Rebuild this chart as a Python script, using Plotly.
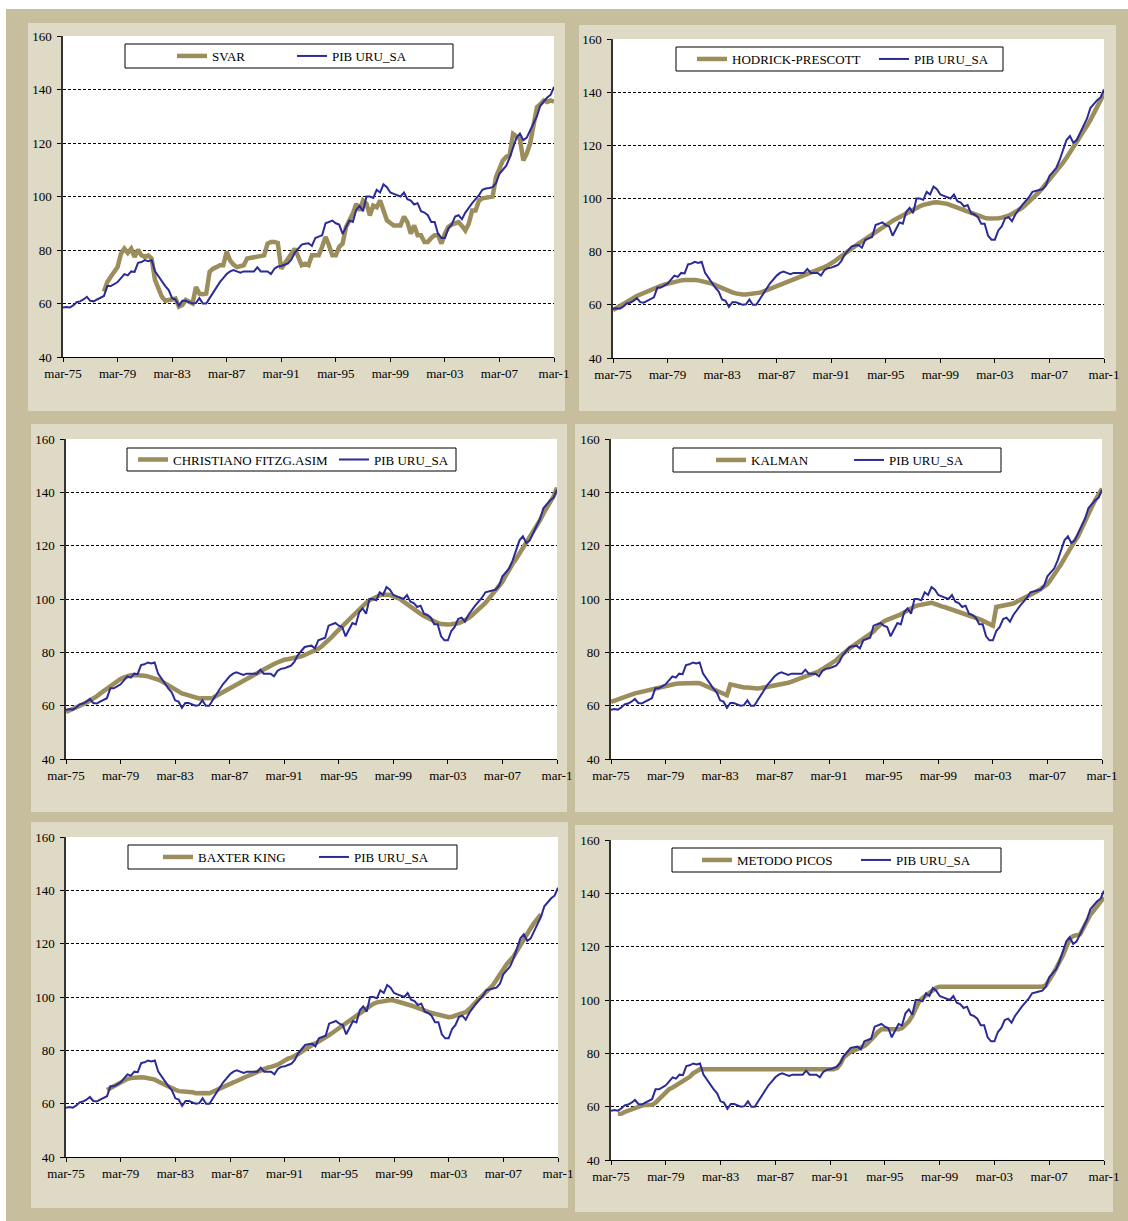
import plotly.graph_objects as go

W, H = 1128, 1221

# ---------------- data (quarterly, mar-75 .. mar-11) ----------------
pib = [
    58.5, 58.7, 58.5, 59.3,   # 1975
    60.5, 60.8, 61.5, 62.5,   # 1976
    61.0, 60.8, 61.5, 62.0,   # 1977
    62.8, 66.5, 66.5, 67.2,   # 1978
    68.0, 69.5, 71.0, 70.5,   # 1979
    72.0, 71.8, 75.2, 75.5,   # 1980
    76.2, 75.8, 76.2, 72.0,   # 1981
    70.0, 68.0, 66.5, 65.0,   # 1982
    62.0, 61.5, 59.2, 61.0,   # 1983
    61.0, 60.5, 60.0, 60.2,   # 1984
    62.0, 60.0, 60.0, 62.0,   # 1985
    64.0, 66.5, 68.0, 69.5,   # 1986
    71.0, 72.0, 72.5, 72.0,   # 1987
    71.5, 72.0, 72.0, 72.0,   # 1988
    72.0, 73.5, 72.0, 72.0,   # 1989
    72.0, 71.0, 73.0, 73.8,   # 1990
    74.0, 74.5, 75.0, 76.5,   # 1991
    79.0, 80.5, 82.0, 82.3,   # 1992
    82.5, 81.5, 84.5, 85.0,   # 1993
    85.5, 90.0, 90.5, 91.0,   # 1994
    90.0, 89.5, 86.0, 88.5,   # 1995
    91.0, 90.5, 95.0, 96.5,   # 1996
    94.5, 100.0, 100.0, 99.5,  # 1997
    102.5, 101.5, 104.5, 103.5,  # 1998
    101.5, 101.0, 100.5, 100.0,  # 1999
    101.5, 99.0, 98.5, 97.0,  # 2000
    97.5, 94.5, 94.0, 93.0,   # 2001
    90.5, 90.5, 86.0, 84.5,   # 2002
    84.5, 88.0, 89.5, 92.5,   # 2003
    93.0, 91.5, 94.0, 96.0,   # 2004
    97.5, 99.0, 100.5, 102.5,  # 2005
    103.0, 103.2, 103.5, 105.0,  # 2006
    108.5, 110.0, 111.5, 114.5,  # 2007
    118.0, 122.0, 123.5, 121.0,  # 2008
    122.0, 124.5, 127.5, 130.0,  # 2009
    134.0, 135.5, 137.0, 138.0,  # 2010
    141.0,                    # 2011
]

svar = [None] * 12 + [
    64.5, 68.0, 70.0, 71.5,
    73.6, 78.6, 80.5, 78.9,
    80.5, 77.4, 80.1, 78.0,
    77.4, 78.0, 76.8, 68.7,
    65.0, 62.5, 61.0, 61.2,
    61.5, 61.8, 58.8, 59.4,
    61.3, 60.5, 60.0, 66.2,
    63.7, 63.5, 63.7, 71.8,
    73.0, 73.6, 74.3, 74.3,
    79.3, 76.1, 74.5, 73.6,
    74.0, 74.3, 76.8, 77.0,
    77.1, 77.4, 77.5, 78.0,
    82.4, 83.0, 83.0, 82.6,
    73.0, 75.0, 76.8, 78.6,
    80.5, 77.4, 74.3, 74.9,
    74.3, 78.0, 78.0, 78.0,
    81.2, 84.9, 81.8, 78.0,
    78.0, 81.2, 82.4, 88.6,
    91.1, 93.6, 97.3, 94.8,
    98.5, 97.3, 92.9, 96.6,
    96.0, 98.5, 94.8, 91.1,
    90.1, 89.2, 89.2, 89.2,
    92.5, 90.4, 86.1, 89.2,
    85.5, 85.5, 83.0, 83.0,
    84.5, 85.5, 85.5, 82.4,
    86.1, 88.6, 89.5, 89.8,
    90.4, 89.0, 87.3, 89.8,
    94.8, 94.8, 98.5, 99.3,
    99.6, 99.8, 100.0, 107.3,
    111.0, 113.5, 114.8, 115.5,
    123.4, 122.5, 121.5, 113.5,
    116.0, 119.8, 126.0, 133.4,
    134.5, 135.9, 135.3, 135.9,
    135.5,
]

hp = [
    58.0, 58.8, 59.7, 60.5,
    61.3, 62.0, 62.7, 63.3,
    63.9, 64.5, 65.0, 65.5,
    66.0, 66.6, 67.1, 67.6,
    68.0, 68.4, 68.7, 69.0,
    69.2, 69.3, 69.4, 69.4,
    69.3, 69.2, 69.0, 68.8,
    68.5, 68.0, 67.4, 66.8,
    66.2, 65.6, 65.1, 64.7,
    64.3, 64.0, 63.9, 63.9,
    64.0, 64.1, 64.3, 64.6,
    65.0, 65.5, 66.0, 66.6,
    67.0, 67.5, 68.0, 68.4,
    68.8, 69.3, 69.8, 70.4,
    71.0, 71.5, 72.0, 72.5,
    73.0, 73.6, 74.2, 74.8,
    75.5, 76.4, 77.4, 78.4,
    79.5, 80.4, 81.3, 82.2,
    83.0, 83.9, 84.8, 85.7,
    86.5, 87.4, 88.3, 89.2,
    90.0, 90.8, 91.6, 92.3,
    93.0, 93.8, 94.6, 95.3,
    96.0, 96.6, 97.1, 97.6,
    98.0, 98.3, 98.5, 98.6,
    98.5, 98.3, 98.0, 97.5,
    97.0, 96.5, 96.0, 95.5,
    95.0, 94.5, 94.0, 93.5,
    93.0, 92.7, 92.5, 92.4,
    92.5, 92.6, 92.8, 93.1,
    93.5, 94.2, 94.9, 95.7,
    96.5, 97.6, 98.7, 99.8,
    101.0, 102.5, 104.0, 105.5,
    107.0, 108.6, 110.2, 111.8,
    113.5, 115.3, 117.2, 119.1,
    121.0, 123.1, 125.2, 127.3,
    129.5, 132.0, 134.5, 137.0,
    139.5,
]

cf = [
    57.6, 58.1, 58.6, 59.2,
    59.8, 60.5, 61.2, 61.9,
    62.6, 63.5, 64.5, 65.5,
    66.5, 67.4, 68.2, 69.0,
    70.0, 70.6, 71.2, 71.4,
    71.5, 71.5, 71.4, 71.2,
    71.0, 70.7, 70.3, 69.8,
    69.2, 68.4, 67.6, 66.7,
    65.8, 65.2, 64.6, 64.2,
    63.8, 63.4, 63.0, 62.7,
    62.8, 62.8, 62.5, 62.9,
    63.6, 64.3, 65.0, 65.6,
    66.1, 66.8, 67.6, 68.3,
    69.1, 69.8, 70.5, 71.3,
    72.0, 72.8, 73.6, 74.4,
    75.0, 75.6, 76.2, 76.8,
    77.2, 77.4, 77.6, 77.8,
    78.1, 78.5, 79.0, 79.5,
    80.0, 80.5, 81.3, 82.3,
    83.3, 84.5, 85.8, 87.2,
    88.5, 89.8, 91.0, 92.4,
    93.8, 95.0, 96.2, 97.4,
    98.5, 99.5, 100.3, 101.0,
    101.4, 101.7, 101.8, 101.5,
    101.0, 100.5, 100.0, 99.0,
    98.0, 97.0, 96.0, 95.2,
    94.4, 93.6, 92.9, 92.2,
    91.5, 91.0, 90.6, 90.4,
    90.4, 90.5, 90.6, 90.9,
    91.4, 92.0, 92.8, 93.8,
    94.8, 96.0, 97.3, 98.5,
    100.0, 101.5, 103.0, 104.5,
    106.5, 108.8, 111.4, 113.2,
    115.0, 117.0, 119.0, 121.0,
    123.0, 125.0, 127.2, 129.5,
    132.0, 134.2, 136.3, 138.5,
    141.8,
]

kalman = [
    61.4, 61.9, 62.5, 63.0,
    63.4, 63.8, 64.3, 64.6,
    64.9, 65.2, 65.5, 65.8,
    66.2, 66.7, 67.0, 67.2,
    67.5, 67.8, 68.0, 68.2,
    68.3, 68.4, 68.5, 68.5,
    68.5, 68.5, 68.4, 67.8,
    67.2, 66.6, 66.0, 65.4,
    64.9, 64.3, 63.9, 68.0,
    67.6, 67.3, 67.0, 66.8,
    66.8, 66.6, 66.5, 66.4,
    66.6, 66.8, 67.0, 67.2,
    67.4, 67.7, 68.0, 68.3,
    68.6, 69.0, 69.5, 69.9,
    70.3, 70.8, 71.2, 71.6,
    72.1, 72.9, 73.7, 74.5,
    75.3, 76.1, 77.0, 78.3,
    79.5, 80.5, 81.5, 82.4,
    83.3, 84.0, 84.8, 85.6,
    86.5, 87.8, 89.2, 90.5,
    91.6, 92.2, 92.7, 93.1,
    93.5, 94.2, 95.0, 95.8,
    96.5, 97.2, 97.6, 97.9,
    98.2, 98.4, 98.6, 98.2,
    97.6, 97.2, 96.9, 96.5,
    96.1, 95.7, 95.3, 94.8,
    94.3, 93.9, 93.4, 93.0,
    92.5, 91.9, 91.3, 90.6,
    90.0, 97.0, 97.3, 97.5,
    97.6, 97.9, 98.3, 99.0,
    99.6, 100.3, 101.0, 101.6,
    102.2, 102.9, 103.7, 104.6,
    105.6, 107.3, 109.1, 110.8,
    113.0, 115.2, 117.6, 119.8,
    121.7, 123.6, 126.5, 129.2,
    132.0, 134.5, 137.0, 139.0,
    141.4,
]

baxter_king = [None] * 12 + [
    65.1, 65.8, 66.5, 67.2,
    68.0, 68.8, 69.3, 69.6,
    69.8, 69.9, 69.9, 69.8,
    69.6, 69.4, 69.0, 68.3,
    67.6, 67.0, 66.4, 65.8,
    65.2, 64.7, 64.6, 64.7,
    64.6, 64.3, 63.9, 64.0,
    64.2, 64.0, 63.9, 64.5,
    65.3, 66.0, 66.6, 67.0,
    67.5, 68.0, 68.5, 69.2,
    69.8, 70.3, 70.8, 71.4,
    72.0, 72.6, 73.1, 73.5,
    73.8, 74.1, 74.6, 75.4,
    76.3, 76.9, 77.3, 77.8,
    78.6, 79.5, 80.5, 81.3,
    82.0, 82.6, 83.3, 84.1,
    84.9, 85.7, 86.6, 87.5,
    88.5, 89.5, 90.4, 91.4,
    92.3, 93.2, 93.9, 95.0,
    96.0, 97.0, 97.5, 98.0,
    98.3, 98.6, 98.8, 98.9,
    98.7, 98.4, 98.0, 97.6,
    97.2, 96.8, 96.4, 95.8,
    95.3, 94.8, 94.4, 94.0,
    93.7, 93.5, 93.2, 92.8,
    92.4, 92.6, 93.0, 93.3,
    93.6, 94.3, 95.4, 96.9,
    98.3, 99.5, 100.7, 101.9,
    103.2, 104.5, 106.5, 108.7,
    110.8, 112.3, 113.8, 115.2,
    117.3, 119.6, 122.0, 124.0,
    125.8, 127.7, 129.7, 131.0,
] + [None] * 5

picos = [
    None, None, 57.3, 57.3,
    58.0, 58.5, 59.1, 59.6,
    60.1, 60.4, 60.6, 60.7,
    60.7, 61.5, 62.8, 64.0,
    65.5, 66.6, 67.2, 68.0,
    68.7, 69.4, 70.2, 71.2,
    72.5, 73.4, 74.0, 74.0,
    74.0, 74.0, 74.0, 74.0,
    74.0, 74.0, 74.0, 74.0,
    74.0, 74.0, 74.0, 74.0,
    74.0, 74.0, 74.0, 74.0,
    74.0, 74.0, 74.0, 74.0,
    74.0, 74.0, 74.0, 74.0,
    74.0, 74.0, 74.0, 74.0,
    74.0, 74.0, 74.0, 74.0,
    74.0, 74.0, 74.0, 74.0,
    74.0, 74.0, 74.5, 76.0,
    78.5, 79.8, 80.6, 81.1,
    81.6, 82.2, 82.7, 83.8,
    85.0, 86.5, 88.0, 89.0,
    89.0, 89.0, 89.0, 89.0,
    89.0, 89.5, 90.5, 92.0,
    94.0, 97.0, 99.5, 100.8,
    101.7, 102.8, 103.8, 104.6,
    105.0, 105.0, 105.0, 105.0,
    105.0, 105.0, 105.0, 105.0,
    105.0, 105.0, 105.0, 105.0,
    105.0, 105.0, 105.0, 105.0,
    105.0, 105.0, 105.0, 105.0,
    105.0, 105.0, 105.0, 105.0,
    105.0, 105.0, 105.0, 105.0,
    105.0, 105.0, 105.0, 105.5,
    107.2, 109.5, 111.8, 114.0,
    116.8, 119.8, 123.0, 124.0,
    124.3, 124.6, 127.0, 129.5,
    132.0, 133.5, 135.3, 137.0,
    138.5,
]

month_names = ["mar", "jun", "set", "dic"]
quarters = [f"{month_names[i % 4]}-{(75 + i // 4) % 100:02d}" for i in range(len(pib))]
tick_vals = quarters[::16]
tick_text = ["mar-75", "mar-79", "mar-83", "mar-87", "mar-91",
             "mar-95", "mar-99", "mar-03", "mar-07", "mar-1"]
y_ticks = [40, 60, 80, 100, 120, 140, 160]

trend_names = ["SVAR", "HODRICK-PRESCOTT", "CHRISTIANO FITZG.ASIM",
               "KALMAN", "BAXTER KING", "METODO PICOS"]
trend_series = [svar, hp, cf, kalman, baxter_king, picos]
pib_name = "PIB URU_SA"

# ---------------- layout geometry (pixels) ----------------
plot_px = [(63, 554, 36, 357), (613, 1104, 39, 358),
           (66, 557, 439, 759), (611, 1102, 439, 759),
           (66, 558, 837, 1157), (611, 1104, 840, 1160)]
panel_px = [(28, 565, 23, 411), (579, 1116, 25, 411),
            (31, 567, 424, 812), (575, 1113, 424, 812),
            (31, 568, 822, 1208), (575, 1113, 825, 1212)]
legend_box = [(125, 453, 44, 68), (676, 1003, 47, 71),
              (127, 456, 448, 471), (673, 1001, 448, 472),
              (128, 457, 845, 869), (672, 1001, 848, 872)]
legend_s = [(177, 298), (697, 880), (138, 340), (716, 855), (163, 320), (702, 862)]

GOLD = "#9C8D5C"
BLUE = "#2B2B98"
DARK_FRAME = "#C6BE9C"
LIGHT_PANEL = "#DEDAC5"
FONT = "Liberation Serif"
FS = 13

px_x = lambda v: v / W
px_y = lambda v: 1 - v / H

fig = go.Figure()
shapes = [dict(type="rect", xref="paper", yref="paper", x0=px_x(6), x1=1, y0=0, y1=px_y(9),
               fillcolor=DARK_FRAME, line=dict(width=0), layer="below")]

layout = dict(width=W, height=H, autosize=False, margin=dict(l=0, r=0, t=0, b=0, pad=0),
              paper_bgcolor="white", plot_bgcolor="rgba(0,0,0,0)", showlegend=True,
              font=dict(family=FONT, size=FS, color="black"))

for i in range(6):
    n = i + 1
    xa = "x" if n == 1 else f"x{n}"
    ya = "y" if n == 1 else f"y{n}"
    lg = "legend" if n == 1 else f"legend{n}"
    l, r, t, b = plot_px[i]

    fig.add_trace(go.Scatter(x=quarters, y=trend_series[i], name=trend_names[i], mode="lines",
                             line=dict(color=GOLD, width=4.5), xaxis=xa, yaxis=ya, legend=lg,
                             connectgaps=False, hoverinfo="skip"))
    fig.add_trace(go.Scatter(x=quarters, y=pib, name=pib_name, mode="lines",
                             line=dict(color=BLUE, width=2), xaxis=xa, yaxis=ya, legend=lg,
                             hoverinfo="skip"))

    layout[f"xaxis{'' if n == 1 else n}"] = dict(
        domain=[px_x(l), px_x(r)], anchor=ya, type="category", range=[0, len(pib) - 1],
        showgrid=False, showline=True, linecolor="black", linewidth=1,
        ticks="outside", ticklen=4, tickcolor="black", tickwidth=1,
        tickmode="array", tickvals=tick_vals, ticktext=tick_text, automargin=False,
        tickfont=dict(family=FONT, size=FS, color="black"), zeroline=False, fixedrange=True)
    layout[f"yaxis{'' if n == 1 else n}"] = dict(
        domain=[px_y(b), px_y(t)], anchor=xa, range=[40, 160],
        tickmode="array", tickvals=y_ticks, automargin=False,
        showgrid=True, gridcolor="black", gridwidth=1, griddash="3px,2px",
        showline=True, linecolor="#333333", linewidth=1.5,
        ticks="outside", ticklen=4, tickcolor="black", tickwidth=1,
        ticklabelstandoff=3,
        tickfont=dict(family=FONT, size=FS, color="black"), zeroline=False, fixedrange=True)

    px0, px1, py0, py1 = panel_px[i]
    shapes.append(dict(type="rect", xref="paper", yref="paper", x0=px_x(px0), x1=px_x(px1),
                       y0=px_y(py1), y1=px_y(py0), fillcolor=LIGHT_PANEL, line=dict(width=0),
                       layer="below"))
    shapes.append(dict(type="rect", xref="paper", yref="paper", x0=px_x(l), x1=px_x(r),
                       y0=px_y(b), y1=px_y(t), fillcolor="white", line=dict(width=0),
                       layer="below"))
    bx0, bx1, by0, by1 = legend_box[i]
    shapes.append(dict(type="rect", xref="paper", yref="paper", x0=px_x(bx0), x1=px_x(bx1),
                       y0=px_y(by1), y1=px_y(by0), fillcolor="white",
                       line=dict(color="black", width=1), layer="above"))
    s1, s2 = legend_s[i]
    layout[lg] = dict(orientation="h", x=px_x(s1 - 5), xanchor="left",
                      y=px_y((by0 + by1) / 2), yanchor="middle",
                      bgcolor="rgba(0,0,0,0)", borderwidth=0,
                      itemwidth=30, entrywidthmode="pixels", entrywidth=s2 - s1 - 46,
                      font=dict(family=FONT, size=FS, color="black"),
                      traceorder="normal", itemclick=False, itemdoubleclick=False)

layout["shapes"] = shapes
fig.update_layout(**layout)
fig.write_html("out.html",
               post_script="document.body.style.margin='0';document.body.style.overflow='hidden';")
